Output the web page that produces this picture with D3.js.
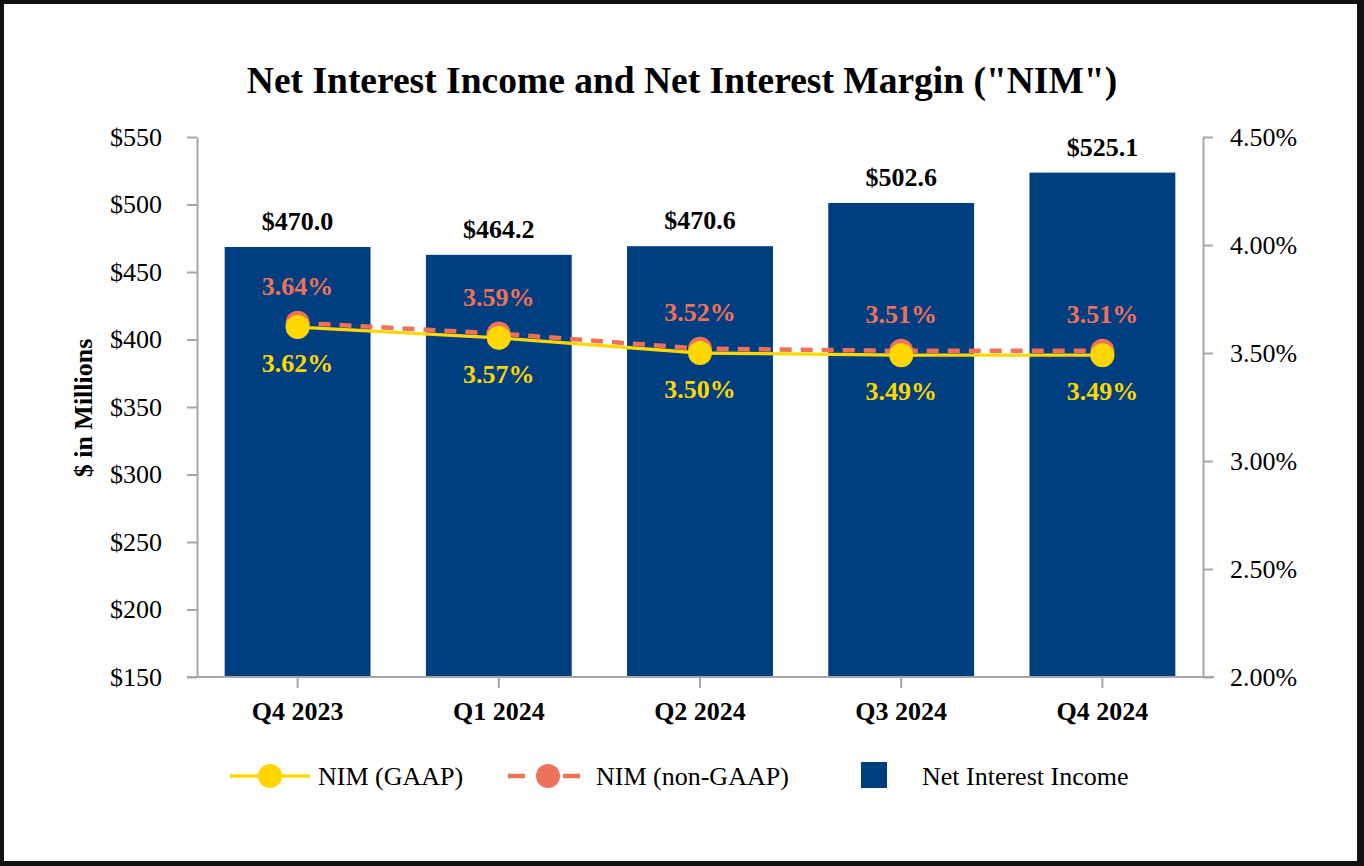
<!DOCTYPE html>
<html>
<head>
<meta charset="utf-8">
<script src="https://cdn.jsdelivr.net/npm/d3@7"></script>
<style>
  html, body { margin: 0; padding: 0; background: #fff; }
  svg text { font-family: "Liberation Serif", "Times New Roman", serif; }
</style>
</head>
<body>
<svg id="chart" width="1364" height="866"></svg>
<script>
'use strict';
const quarters = ['Q4 2023', 'Q1 2024', 'Q2 2024', 'Q3 2024', 'Q4 2024'];
const netInterestIncome = [470.0, 464.2, 470.6, 502.6, 525.1];
const nimGaap = [3.62, 3.57, 3.50, 3.49, 3.49];
const nimNonGaap = [3.64, 3.59, 3.52, 3.51, 3.51];
const leftTicks = [150, 200, 250, 300, 350, 400, 450, 500, 550];
const rightTicks = [2.0, 2.5, 3.0, 3.5, 4.0, 4.5];

const W = 1364, H = 866;
const NAVY = '#003f7f', GOLD = '#ffd700', SALMON = '#ef715a', AXIS = '#a6a6a6';
const svg = d3.select('#chart');

// frame
svg.append('rect').attr('width', W).attr('height', H).attr('fill', '#111');
svg.append('rect').attr('x', 4).attr('y', 4).attr('width', W - 11).attr('height', H - 9).attr('fill', '#fff');

const x = d3.scaleBand().domain(quarters).range([197, 1203]).paddingInner(0.275).paddingOuter(0.1375);
const yL = d3.scaleLinear().domain([150, 550]).range([677, 137]);
const yR = d3.scaleLinear().domain([2, 4.5]).range([677, 137]);
const cx = q => x(q) + x.bandwidth() / 2;

// title
svg.append('text').attr('x', 682).attr('y', 93).attr('text-anchor', 'middle')
  .attr('font-size', 37.5).attr('font-weight', 'bold')
  .text('Net Interest Income and Net Interest Margin ("NIM")');

// bars
svg.append('g').selectAll('rect').data(quarters).join('rect')
  .attr('x', d => x(d)).attr('width', x.bandwidth())
  .attr('y', (d, i) => yL(netInterestIncome[i]) + 2)
  .attr('height', (d, i) => yL(150) - yL(netInterestIncome[i]) - 2)
  .attr('fill', NAVY);

svg.append('g').selectAll('text').data(quarters).join('text')
  .attr('x', cx).attr('y', (d, i) => yL(netInterestIncome[i]) - 15)
  .attr('text-anchor', 'middle').attr('font-size', 26).attr('font-weight', 'bold')
  .text((d, i) => '$' + netInterestIncome[i].toFixed(1));

// axes
function styleAxis(g) {
  g.select('.domain').attr('stroke', AXIS).attr('stroke-width', 2);
  g.selectAll('.tick line').attr('stroke', AXIS).attr('stroke-width', 2);
  g.selectAll('.tick text').attr('fill', '#000').attr('font-size', 26)
    .attr('font-family', '"Liberation Serif", "Times New Roman", serif');
}
svg.append('g').attr('transform', 'translate(197,0)')
  .call(d3.axisLeft(yL).tickValues(leftTicks).tickSize(10).tickSizeOuter(0).tickPadding(25).tickFormat(d => '$' + d))
  .call(styleAxis);
svg.append('g').attr('transform', 'translate(1203,0)')
  .call(d3.axisRight(yR).tickValues(rightTicks).tickSize(10).tickSizeOuter(0).tickPadding(17).tickFormat(d => d.toFixed(2) + '%'))
  .call(styleAxis);
const xg = svg.append('g').attr('transform', 'translate(0,677)')
  .call(d3.axisBottom(x).tickSize(11).tickSizeOuter(0).tickPadding(14))
  .call(styleAxis);
xg.select('.domain').remove();
xg.selectAll('.tick text').attr('font-weight', 'bold').attr('dy', '0.71em');
svg.append('line').attr('x1', x.range()[0] - 10).attr('x2', x.range()[1] + 11)
  .attr('y1', yL(150)).attr('y2', yL(150)).attr('stroke', AXIS).attr('stroke-width', 2);

// y title
svg.append('text').attr('transform', `translate(92,${(yL(150) + yL(550)) / 2 + 1}) rotate(-90)`)
  .attr('text-anchor', 'middle').attr('font-size', 26).attr('font-weight', 'bold')
  .text('$ in Millions');

// NIM lines
const nimLine = d3.line().x((d, i) => cx(quarters[i])).y(d => yR(d));
svg.append('path').datum(nimNonGaap).attr('d', nimLine).attr('fill', 'none')
  .attr('stroke', SALMON).attr('stroke-width', 4.5).attr('stroke-dasharray', '12,9');
svg.append('g').selectAll('circle').data(nimNonGaap).join('circle')
  .attr('cx', (d, i) => cx(quarters[i])).attr('cy', d => yR(d)).attr('r', 12).attr('fill', SALMON);
svg.append('path').datum(nimGaap).attr('d', nimLine).attr('fill', 'none')
  .attr('stroke', GOLD).attr('stroke-width', 3.3);
svg.append('g').selectAll('circle').data(nimGaap).join('circle')
  .attr('cx', (d, i) => cx(quarters[i])).attr('cy', d => yR(d)).attr('r', 12).attr('fill', GOLD);

svg.append('g').selectAll('text').data(nimNonGaap).join('text')
  .attr('x', (d, i) => cx(quarters[i])).attr('y', d => yR(d) - 28)
  .attr('text-anchor', 'middle').attr('font-size', 26).attr('font-weight', 'bold').attr('fill', SALMON)
  .text(d => d.toFixed(2) + '%');
svg.append('g').selectAll('text').data(nimGaap).join('text')
  .attr('x', (d, i) => cx(quarters[i])).attr('y', d => yR(d) + 45)
  .attr('text-anchor', 'middle').attr('font-size', 26).attr('font-weight', 'bold').attr('fill', GOLD)
  .text(d => d.toFixed(2) + '%');

// legend
const ly = 776;
const lg = svg.append('g');
lg.append('line').attr('x1', 230).attr('x2', 310).attr('y1', ly).attr('y2', ly).attr('stroke', GOLD).attr('stroke-width', 3.3);
lg.append('circle').attr('cx', 270).attr('cy', ly).attr('r', 12).attr('fill', GOLD);
lg.append('text').attr('x', 318).attr('y', ly + 9).attr('font-size', 26).text('NIM (GAAP)');
lg.append('line').attr('x1', 508).attr('x2', 525).attr('y1', ly).attr('y2', ly).attr('stroke', SALMON).attr('stroke-width', 4.5);
lg.append('line').attr('x1', 563).attr('x2', 580).attr('y1', ly).attr('y2', ly).attr('stroke', SALMON).attr('stroke-width', 4.5);
lg.append('circle').attr('cx', 548).attr('cy', ly).attr('r', 12).attr('fill', SALMON);
lg.append('text').attr('x', 596).attr('y', ly + 9).attr('font-size', 26).text('NIM (non-GAAP)');
lg.append('rect').attr('x', 861).attr('y', ly - 14).attr('width', 26).attr('height', 26).attr('fill', NAVY);
lg.append('text').attr('x', 922).attr('y', ly + 9).attr('font-size', 26).text('Net Interest Income');
</script>
</body>
</html>
